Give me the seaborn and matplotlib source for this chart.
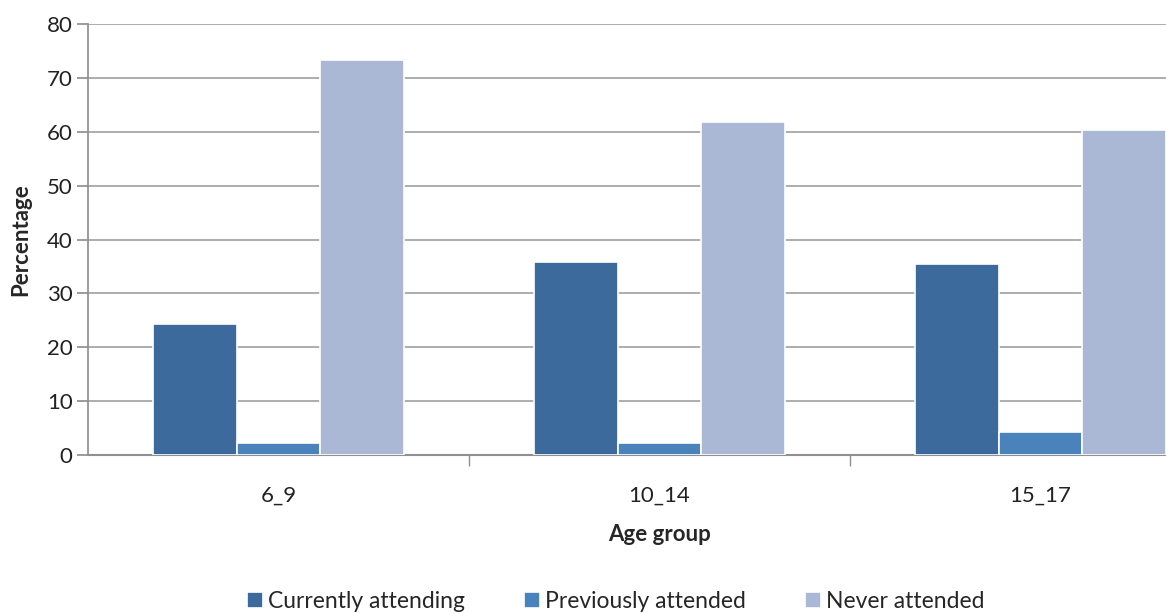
"""
Grouped bar chart: school attendance by age group
"""
import pandas as pd
import matplotlib
matplotlib.use("Agg")
import matplotlib.pyplot as plt
import seaborn as sns

age_groups = ["6_9", "10_14", "15_17"]
statuses = ["Currently attending", "Previously attended", "Never attended"]
currently = [24.3, 35.8, 35.5]
previously = [2.2, 2.2, 4.3]
never = [73.3, 61.9, 60.3]

df = pd.DataFrame({
    "age": age_groups * 3,
    "status": [s for s in statuses for _ in age_groups],
    "pct": currently + previously + never,
})

sns.set_theme(style="white")
plt.rcParams['font.family'] = ['Lato', 'DejaVu Sans']
colors = ['#3C6A9C', '#4A82BC', '#AAB8D6']

fig = plt.figure(figsize=(11.66, 6.14), dpi=100)
ax = fig.add_axes([88 / 1166, 159 / 614, 1143 / 1166, 431 / 614])

sns.barplot(data=df, x="age", y="pct", hue="status", order=age_groups,
            hue_order=statuses, palette=colors, width=0.66,
            edgecolor='white', linewidth=1.2, saturation=1, ax=ax, zorder=3)

ax.set_xlim(-0.5, 2.5)
ax.set_ylim(0, 80)
ax.set_yticks(range(0, 81, 10))
ax.yaxis.grid(True, color='#a0a0a0', linewidth=1.2, zorder=0)
ax.set_axisbelow(True)

for side in ['top', 'right']:
    ax.spines[side].set_visible(False)
ax.spines['left'].set_color('#909090')
ax.spines['bottom'].set_color('#909090')
ax.spines['bottom'].set_linewidth(1.5)

ax.tick_params(axis='y', which='major', left=True, length=8, color='#909090',
               labelsize=16, pad=3, labelcolor='#222222')
ax.tick_params(axis='x', which='major', length=0, labelsize=16, pad=22,
               labelcolor='#222222')
ax.set_xticks([0.5, 1.5], minor=True)
ax.tick_params(axis='x', which='minor', bottom=True, length=8, color='#909090')

ax.set_xlabel("Age group", fontsize=16, fontweight='bold', labelpad=13)
ax.set_ylabel("Percentage", fontsize=16, fontweight='bold')
ax.yaxis.set_label_coords(-0.05, 0.5)

ax.legend(ncol=3, frameon=False, fontsize=16.5, loc='center',
          bbox_to_anchor=(0.528, 0.021), bbox_transform=fig.transFigure,
          handlelength=0.7, handleheight=0.7, handletextpad=0.2,
          columnspacing=2.6)

plt.savefig("out.png", dpi=100)
